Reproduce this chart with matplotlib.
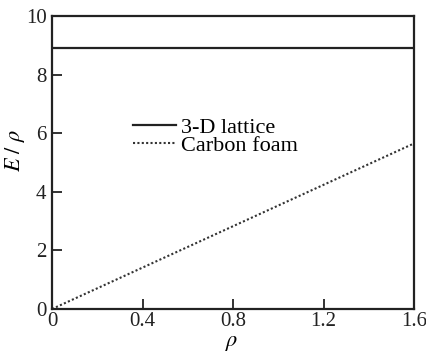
import matplotlib
matplotlib.use("Agg")
import matplotlib.pyplot as plt

rho_lattice = [0.0, 1.6]
E_lattice = [8.9, 8.9]
rho_foam = [0.0, 1.6]
E_foam = [0.0, 5.65]
xticks = [0, 0.4, 0.8, 1.2, 1.6]
xticklabels = ["0", "0.4", "0.8", "1.2", "1.6"]
yticks = [0, 2, 4, 6, 8, 10]
yticklabels = ["0", "2", "4", "6", "8", "10"]

plt.rcParams['font.family'] = ['Liberation Serif', 'DejaVu Serif']
plt.rcParams['mathtext.fontset'] = 'stix'

fig = plt.figure(figsize=(4.26, 3.54), dpi=100)
ax = fig.add_axes([52/426, 1 - 309/354, (414-52)/426, (309-16)/354])

ax.plot(rho_lattice, E_lattice, color='#222222', lw=1.6, label='3-D lattice')
ax.plot(rho_foam, E_foam, color='#333333', lw=1.5, linestyle=(0, (1, 1.1)), label='Carbon foam')

ax.set_xlim(0, 1.6)
ax.set_ylim(0, 10)
ax.set_xticks(xticks)
ax.set_xticklabels(xticklabels)
ax.set_yticks(yticks)
ax.set_yticklabels(yticklabels)
ax.tick_params(direction='in', length=7, width=1.3, labelsize=15, colors='#222222')
ax.tick_params(axis='y', pad=4)
ax.tick_params(axis='x', pad=2)
for s in ax.spines.values():
    s.set_linewidth(1.6)
    s.set_color('#222222')

ax.set_xlabel(r'$\rho$', fontsize=16)
ax.xaxis.set_label_coords(0.497, -0.085)
ax.set_ylabel(r'$E\ /\ \rho$', fontsize=16)
ax.yaxis.set_label_coords(-0.068, 0.54)

ax.legend(loc='upper left', bbox_to_anchor=(0.2, 0.685), frameon=False, fontsize=16,
          handlelength=1.9, handletextpad=0.25, labelspacing=-0.12, borderaxespad=0)

fig.savefig('out.png', dpi=100)
